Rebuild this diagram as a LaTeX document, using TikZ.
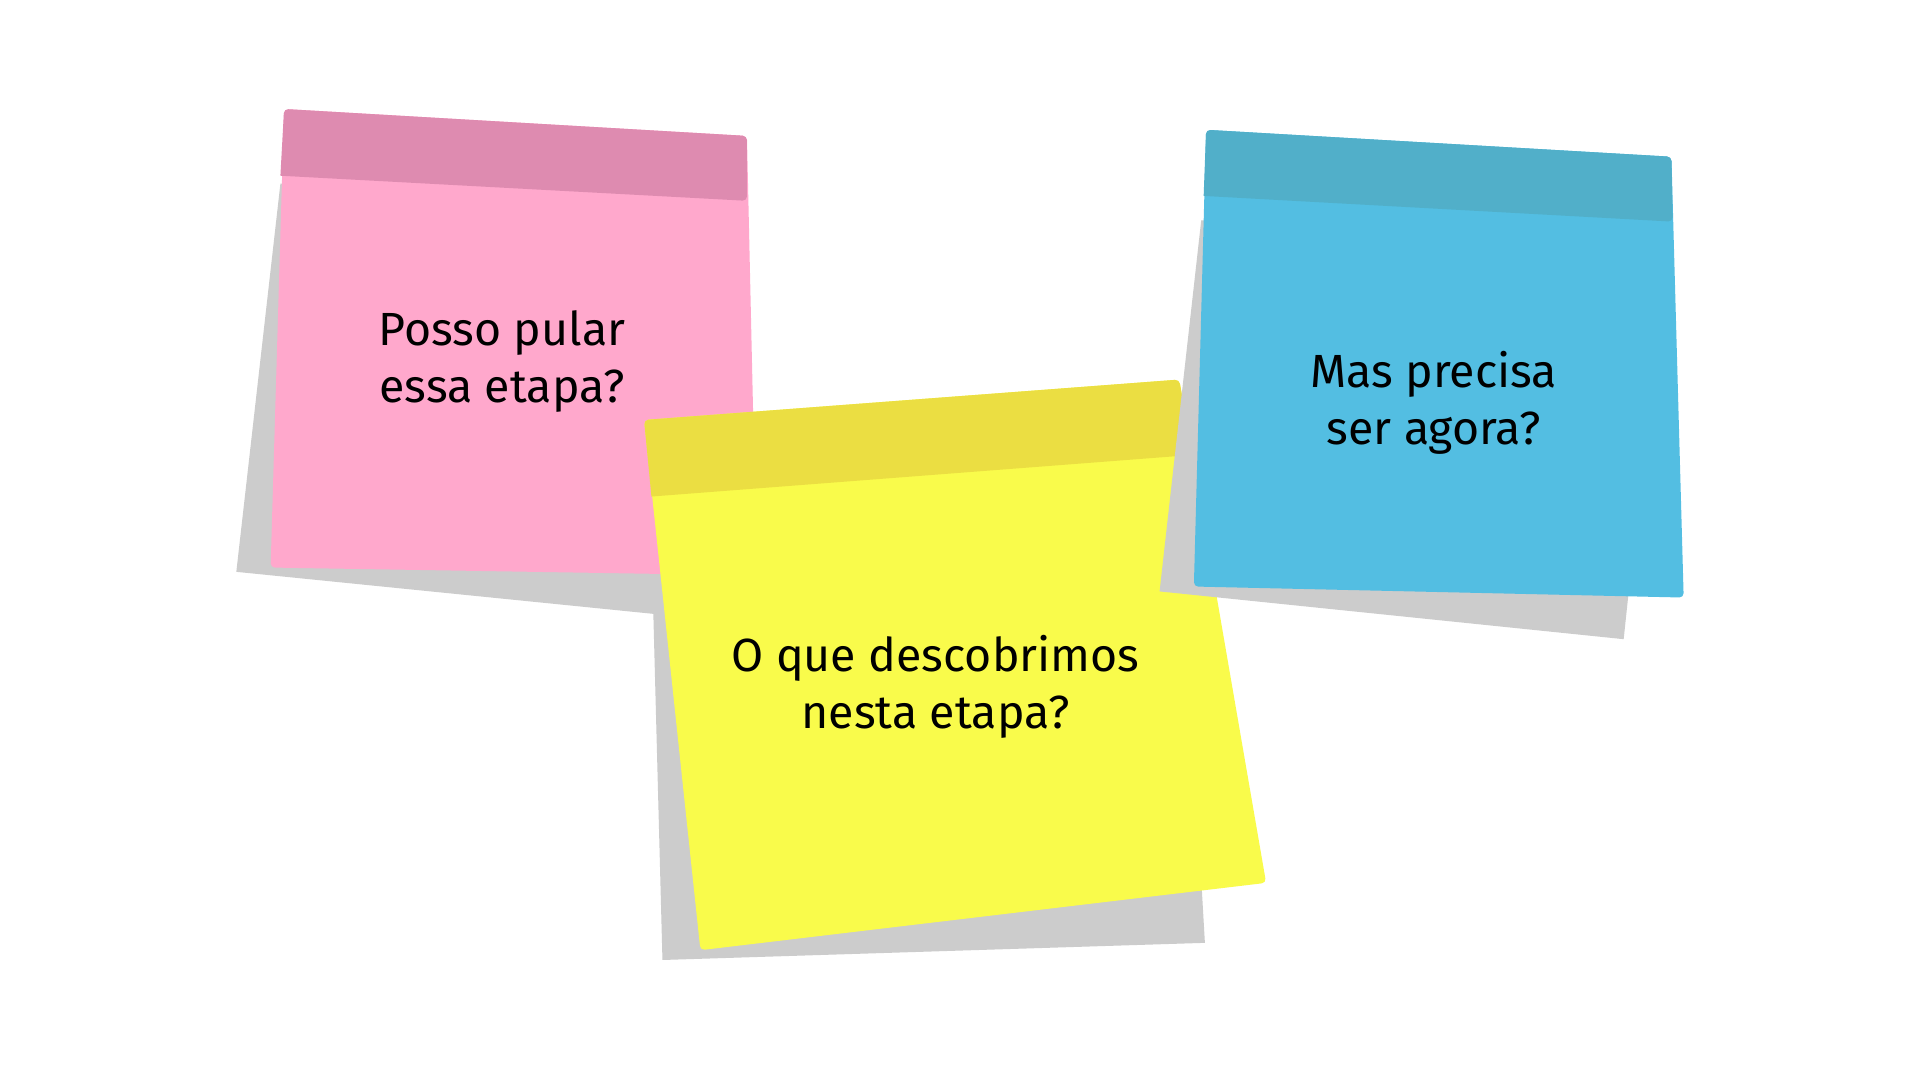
\documentclass[tikz,border=0pt]{standalone}
\usepackage[rgb]{xcolor}
\usepackage{fontspec}
\setmainfont{Fira Sans}
\usepackage{tikz}

\definecolor{pinkhead}{HTML}{DE8BB0}
\definecolor{pinkbody}{HTML}{FFA8CC}
\definecolor{yellowhead}{HTML}{EBDE42}
\definecolor{yellowbody}{HTML}{F9FB4B}
\definecolor{bluehead}{HTML}{51AFC9}
\definecolor{bluebody}{HTML}{53BEE2}
\definecolor{shade}{HTML}{CCCCCC}

\begin{document}
\begin{tikzpicture}[x=0.01cm, y=-0.01cm,
  shadow/.style={fill=shade},
  note/.style={rounded corners=1pt},
  question/.style={align=center, font=\fontsize{10.8}{13.3}\selectfont}]

\useasboundingbox (0,0) rectangle (1568,882);
\fill[white] (0,0) rectangle (1568,882);

%
% Pink note left
%

\fill[shadow] (229,150) -- (605,150) -- (580,506) -- (193,467) -- cycle;

\fill[pinkbody, note] (232,89) -- (610,111) -- (618,470) -- (221,463.5) -- cycle;

\fill[pinkhead, note] (229,143.5) -- (232,89) -- (610,111) -- (610,164) [sharp corners] -- cycle;

\path 
(410,295) node[question] (posso) {Posso pular\\essa etapa?};


%
% Yellow note middle
%

\fill[shadow] (533,480) -- (965,440) -- (984,770) -- (541,784) -- cycle;

\fill[yellowbody, note] (526,343) -- (963,310) -- (1034,721) -- (572,776) -- cycle;

\fill[yellowhead, note] (532,405.5) -- (526,343) -- (963,310) -- (974,371.5) [sharp corners] -- cycle;

\path 
(764,561) node[question] (descobrimos) {O que descobrimos\\nesta etapa?};


%
% Blue note right
%

\fill[shadow] (981,180) -- (1340,182) -- (1329.6,488) -- (1326,522) -- (947,483) -- cycle;

\fill[bluebody, note] (985,106) -- (1365,128) -- (1375,488) -- (975,479) -- cycle;

\fill[bluehead, note] (983,160) -- (985,106) -- (1365,128) -- (1366,181) [sharp corners] -- cycle;

\path 
(1171,329) node[question] (agora) {Mas precisa\\ser agora?};

\end{tikzpicture}
\end{document}
